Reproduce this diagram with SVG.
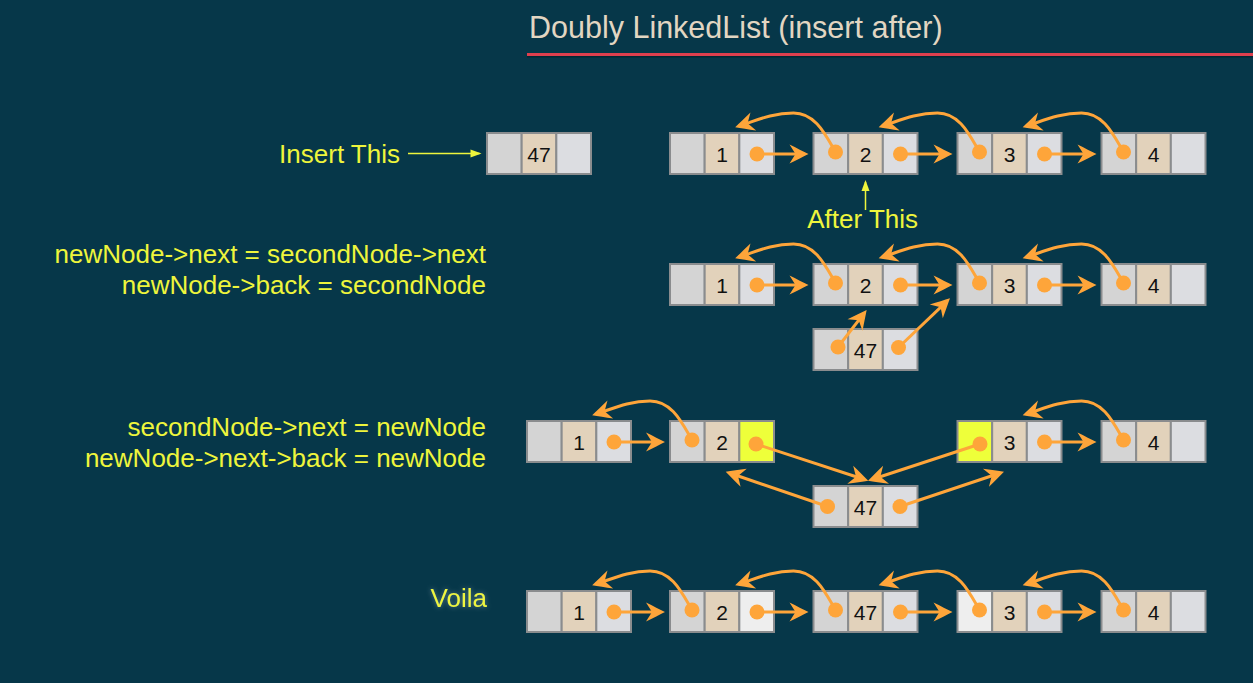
<svg xmlns="http://www.w3.org/2000/svg" width="1253" height="683" viewBox="0 0 1253 683">
<style>
.c1{fill:#d4d4d4;stroke:#8a8c8e;stroke-width:2}
.c2{fill:#e2d2bb;stroke:#8a8c8e;stroke-width:2}
.c3{fill:#dcdde1;stroke:#8a8c8e;stroke-width:2}
.hl{fill:#eeff3a;stroke:#8a8c8e;stroke-width:2}
.lt{fill:#eeeeee;stroke:#8a8c8e;stroke-width:2}
.num{font-family:"Liberation Sans",Arial,sans-serif;font-size:21px;fill:#111;text-anchor:middle}
.lbl{font-family:"Liberation Sans",Arial,sans-serif;font-size:26px;fill:#eef53c;text-anchor:end}
.ptr{stroke:#fea53a;stroke-width:3;fill:none;marker-end:url(#ah)}
.dot{fill:#fea53a}
.yl{stroke:#eef53c;stroke-width:1.5;fill:none;marker-end:url(#ya)}
</style>
<defs>
<marker id="ah" markerUnits="userSpaceOnUse" viewBox="-16 -11 21 22" refX="0" refY="0" markerWidth="21" markerHeight="22" orient="auto">
<path d="M4,0 C-1,-2.5 -8,-6 -15,-9.5 L-9,0 L-15,9.5 C-8,6 -1,2.5 4,0 Z" fill="#fea53a"/>
</marker>
<marker id="ya" markerUnits="userSpaceOnUse" viewBox="-10 -5 12 10" refX="0" refY="0" markerWidth="12" markerHeight="10" orient="auto">
<path d="M2,0 L-9,-4 L-9,4 Z" fill="#eef53c"/>
</marker>
<filter id="glow" x="-20%" y="-40%" width="140%" height="180%">
<feGaussianBlur in="SourceAlpha" stdDeviation="2.5" result="b"/>
<feFlood flood-color="#ffffff" flood-opacity="0.35"/>
<feComposite in2="b" operator="in" result="g"/>
<feMerge><feMergeNode in="g"/><feMergeNode in="SourceGraphic"/></feMerge>
</filter>
</defs>
<rect width="1253" height="683" fill="#063749"/>

<g id="title">
<text x="529" y="38" font-family="Liberation Sans,Arial,sans-serif" font-size="30.5" fill="#e2d6c2">Doubly LinkedList (insert after)</text>
<rect x="527" y="55.5" width="726" height="2" fill="#032835"/>
<rect x="527" y="53" width="726" height="3" fill="#df3f4e"/>
</g>

<g id="labels">
<text class="lbl" x="400" y="163">Insert This</text>
<text class="lbl" x="918" y="228">After This</text>
<text class="lbl" x="486" y="263">newNode-&gt;next = secondNode-&gt;next</text>
<text class="lbl" x="486" y="294">newNode-&gt;back = secondNode</text>
<text class="lbl" x="486" y="436">secondNode-&gt;next = newNode</text>
<text class="lbl" x="486" y="467">newNode-&gt;next-&gt;back = newNode</text>
<text class="lbl" x="487" y="607" filter="url(#glow)">Voila</text>
</g>

<!-- Row 1 -->
<g id="r1-new"><rect class="c1" x="487" y="133" width="34.67" height="41"/><rect class="c2" x="521.67" y="133" width="34.67" height="41"/><rect class="c3" x="556.33" y="133" width="34.67" height="41"/><text class="num" x="539" y="161.5">47</text></g>
<g id="r1-n1"><rect class="c1" x="670" y="133" width="34.67" height="41"/><rect class="c2" x="704.67" y="133" width="34.67" height="41"/><rect class="c3" x="739.33" y="133" width="34.67" height="41"/><text class="num" x="722" y="161.5">1</text></g>
<g id="r1-n2"><rect class="c1" x="813.5" y="133" width="34.67" height="41"/><rect class="c2" x="848.17" y="133" width="34.67" height="41"/><rect class="c3" x="882.83" y="133" width="34.67" height="41"/><text class="num" x="865.5" y="161.5">2</text></g>
<g id="r1-n3"><rect class="c1" x="957.5" y="133" width="34.67" height="41"/><rect class="c2" x="992.17" y="133" width="34.67" height="41"/><rect class="c3" x="1026.83" y="133" width="34.67" height="41"/><text class="num" x="1009.5" y="161.5">3</text></g>
<g id="r1-n4"><rect class="c1" x="1101.5" y="133" width="34.67" height="41"/><rect class="c2" x="1136.17" y="133" width="34.67" height="41"/><rect class="c3" x="1170.83" y="133" width="34.67" height="41"/><text class="num" x="1153.5" y="161.5">4</text></g>

<!-- Row 2 -->
<g id="r2-n1"><rect class="c1" x="670" y="264" width="34.67" height="41"/><rect class="c2" x="704.67" y="264" width="34.67" height="41"/><rect class="c3" x="739.33" y="264" width="34.67" height="41"/><text class="num" x="722" y="292.5">1</text></g>
<g id="r2-n2"><rect class="c1" x="813.5" y="264" width="34.67" height="41"/><rect class="c2" x="848.17" y="264" width="34.67" height="41"/><rect class="c3" x="882.83" y="264" width="34.67" height="41"/><text class="num" x="865.5" y="292.5">2</text></g>
<g id="r2-n3"><rect class="c1" x="957.5" y="264" width="34.67" height="41"/><rect class="c2" x="992.17" y="264" width="34.67" height="41"/><rect class="c3" x="1026.83" y="264" width="34.67" height="41"/><text class="num" x="1009.5" y="292.5">3</text></g>
<g id="r2-n4"><rect class="c1" x="1101.5" y="264" width="34.67" height="41"/><rect class="c2" x="1136.17" y="264" width="34.67" height="41"/><rect class="c3" x="1170.83" y="264" width="34.67" height="41"/><text class="num" x="1153.5" y="292.5">4</text></g>
<g id="r2-new"><rect class="c1" x="813.5" y="329" width="34.67" height="41"/><rect class="c2" x="848.17" y="329" width="34.67" height="41"/><rect class="c3" x="882.83" y="329" width="34.67" height="41"/><text class="num" x="865.5" y="357.5">47</text></g>

<!-- Row 3 -->
<g id="r3-n1"><rect class="c1" x="527" y="421" width="34.67" height="41"/><rect class="c2" x="561.67" y="421" width="34.67" height="41"/><rect class="c3" x="596.33" y="421" width="34.67" height="41"/><text class="num" x="579" y="449.5">1</text></g>
<g id="r3-n2"><rect class="c1" x="670" y="421" width="34.67" height="41"/><rect class="c2" x="704.67" y="421" width="34.67" height="41"/><rect class="hl" x="739.33" y="421" width="34.67" height="41"/><text class="num" x="722" y="449.5">2</text></g>
<g id="r3-n3"><rect class="hl" x="957.5" y="421" width="34.67" height="41"/><rect class="c2" x="992.17" y="421" width="34.67" height="41"/><rect class="c3" x="1026.83" y="421" width="34.67" height="41"/><text class="num" x="1009.5" y="449.5">3</text></g>
<g id="r3-n4"><rect class="c1" x="1101.5" y="421" width="34.67" height="41"/><rect class="c2" x="1136.17" y="421" width="34.67" height="41"/><rect class="c3" x="1170.83" y="421" width="34.67" height="41"/><text class="num" x="1153.5" y="449.5">4</text></g>
<g id="r3-new"><rect class="c1" x="813.5" y="486" width="34.67" height="41"/><rect class="c2" x="848.17" y="486" width="34.67" height="41"/><rect class="c3" x="882.83" y="486" width="34.67" height="41"/><text class="num" x="865.5" y="514.5">47</text></g>

<!-- Row 4 -->
<g id="r4-n1"><rect class="c1" x="527" y="591" width="34.67" height="41"/><rect class="c2" x="561.67" y="591" width="34.67" height="41"/><rect class="c3" x="596.33" y="591" width="34.67" height="41"/><text class="num" x="579" y="619.5">1</text></g>
<g id="r4-n2"><rect class="c1" x="670" y="591" width="34.67" height="41"/><rect class="c2" x="704.67" y="591" width="34.67" height="41"/><rect class="lt" x="739.33" y="591" width="34.67" height="41"/><text class="num" x="722" y="619.5">2</text></g>
<g id="r4-new"><rect class="c1" x="813.5" y="591" width="34.67" height="41"/><rect class="c2" x="848.17" y="591" width="34.67" height="41"/><rect class="c3" x="882.83" y="591" width="34.67" height="41"/><text class="num" x="865.5" y="619.5">47</text></g>
<g id="r4-n3"><rect class="lt" x="957.5" y="591" width="34.67" height="41"/><rect class="c2" x="992.17" y="591" width="34.67" height="41"/><rect class="c3" x="1026.83" y="591" width="34.67" height="41"/><text class="num" x="1009.5" y="619.5">3</text></g>
<g id="r4-n4"><rect class="c1" x="1101.5" y="591" width="34.67" height="41"/><rect class="c2" x="1136.17" y="591" width="34.67" height="41"/><rect class="c3" x="1170.83" y="591" width="34.67" height="41"/><text class="num" x="1153.5" y="619.5">4</text></g>

<g id="connectors">
<path class="yl" d="M408,153.5 L479.5,153.5"/>
<path class="yl" d="M865.5,210 L865.5,182"/>

<!-- row 1 -->
<path class="ptr" d="M757,154 L804.5,154"/>
<path class="ptr" d="M900.5,154 L948.5,154"/>
<path class="ptr" d="M1044.5,154 L1092.5,154"/>
<path class="ptr" d="M835.5,152 C825.5,135 815.5,113 793.5,113 C771.5,113 755,121 739,126"/>
<path class="ptr" d="M979.5,152 C969.5,135 959.5,113 937.5,113 C915.5,113 898.5,121 882.5,126"/>
<path class="ptr" d="M1123.5,152 C1113.5,135 1103.5,113 1081.5,113 C1059.5,113 1042.5,121 1026.5,126"/>
<circle class="dot" cx="757" cy="154" r="7.5"/><circle class="dot" cx="900.5" cy="154" r="7.5"/><circle class="dot" cx="1044.5" cy="154" r="7.5"/>
<circle class="dot" cx="835.5" cy="152" r="7.5"/><circle class="dot" cx="979.5" cy="152" r="7.5"/><circle class="dot" cx="1123.5" cy="152" r="7.5"/>

<!-- row 2 -->
<path class="ptr" d="M757,285 L804.5,285"/>
<path class="ptr" d="M900.5,285 L948.5,285"/>
<path class="ptr" d="M1044.5,285 L1092.5,285"/>
<path class="ptr" d="M835.5,283 C825.5,266 815.5,244 793.5,244 C771.5,244 755,252 739,257"/>
<path class="ptr" d="M979.5,283 C969.5,266 959.5,244 937.5,244 C915.5,244 898.5,252 882.5,257"/>
<path class="ptr" d="M1123.5,283 C1113.5,266 1103.5,244 1081.5,244 C1059.5,244 1042.5,252 1026.5,257"/>
<path class="ptr" d="M838,347 L864.2,313.2"/>
<path class="ptr" d="M898.5,347.5 L947.1,301.1"/>
<circle class="dot" cx="757" cy="285" r="7.5"/><circle class="dot" cx="900.5" cy="285" r="7.5"/><circle class="dot" cx="1044.5" cy="285" r="7.5"/>
<circle class="dot" cx="835.5" cy="283" r="7.5"/><circle class="dot" cx="979.5" cy="283" r="7.5"/><circle class="dot" cx="1123.5" cy="283" r="7.5"/>
<circle class="dot" cx="838" cy="347" r="7.5"/><circle class="dot" cx="898.5" cy="347.5" r="7.5"/>

<!-- row 3 -->
<path class="ptr" d="M614,442 L661,442"/>
<path class="ptr" d="M1044.5,442 L1092.5,442"/>
<path class="ptr" d="M692,440 C682,423 672,401 650,401 C628,401 612,409 596,414"/>
<path class="ptr" d="M1123.5,440 C1113.5,423 1103.5,401 1081.5,401 C1059.5,401 1042.5,409 1026.5,414"/>
<path class="ptr" d="M756,444 L864.5,479.5"/>
<path class="ptr" d="M980,444 L871.8,479.5"/>
<path class="ptr" d="M827.5,506.5 L729.5,473"/>
<path class="ptr" d="M900,506.5 L1000.2,473"/>
<circle class="dot" cx="614" cy="442" r="7.5"/><circle class="dot" cx="1044.5" cy="442" r="7.5"/>
<circle class="dot" cx="692" cy="440" r="7.5"/><circle class="dot" cx="1123.5" cy="440" r="7.5"/>
<circle class="dot" cx="756" cy="444" r="7.5"/><circle class="dot" cx="980" cy="444" r="7.5"/>
<circle class="dot" cx="827.5" cy="506.5" r="7.5"/><circle class="dot" cx="900" cy="506.5" r="7.5"/>

<!-- row 4 -->
<path class="ptr" d="M614,612 L661,612"/>
<path class="ptr" d="M757,612 L804.5,612"/>
<path class="ptr" d="M900.5,612 L948.5,612"/>
<path class="ptr" d="M1044.5,612 L1092.5,612"/>
<path class="ptr" d="M692,610 C682,593 672,571 650,571 C628,571 612,579 596,584"/>
<path class="ptr" d="M835.5,610 C825.5,593 815.5,571 793.5,571 C771.5,571 755,579 739,584"/>
<path class="ptr" d="M979.5,610 C969.5,593 959.5,571 937.5,571 C915.5,571 898.5,579 882.5,584"/>
<path class="ptr" d="M1123.5,610 C1113.5,593 1103.5,571 1081.5,571 C1059.5,571 1042.5,579 1026.5,584"/>
<circle class="dot" cx="614" cy="612" r="7.5"/><circle class="dot" cx="757" cy="612" r="7.5"/><circle class="dot" cx="900.5" cy="612" r="7.5"/><circle class="dot" cx="1044.5" cy="612" r="7.5"/>
<circle class="dot" cx="692" cy="610" r="7.5"/><circle class="dot" cx="835.5" cy="610" r="7.5"/><circle class="dot" cx="979.5" cy="610" r="7.5"/><circle class="dot" cx="1123.5" cy="610" r="7.5"/>
</g>
</svg>
